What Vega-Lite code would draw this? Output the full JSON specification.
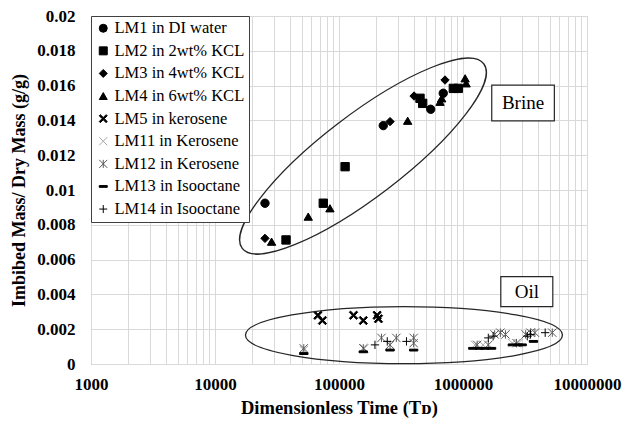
{
  "$schema": "https://vega.github.io/schema/vega-lite/v6.json",
  "width": 496,
  "height": 348,
  "autosize": {"type": "none"},
  "padding": {"left": 91, "top": 16, "right": 36, "bottom": 60},
  "background": "white",
  "config": {
    "view": {"stroke": "#bfbfbf", "strokeWidth": 1},
    "font": "Liberation Serif"
  },
  "datasets": {
    "points": [
      {"series": "LM1 in DI water", "td": 25300, "mass": 0.00924},
      {"series": "LM1 in DI water", "td": 227500, "mass": 0.0137},
      {"series": "LM1 in DI water", "td": 549000, "mass": 0.01464},
      {"series": "LM1 in DI water", "td": 693000, "mass": 0.01556},
      {"series": "LM2 in 2wt% KCL", "td": 37400, "mass": 0.00713},
      {"series": "LM2 in 2wt% KCL", "td": 74700, "mass": 0.00924},
      {"series": "LM2 in 2wt% KCL", "td": 112000, "mass": 0.01134},
      {"series": "LM2 in 2wt% KCL", "td": 450000, "mass": 0.01527},
      {"series": "LM2 in 2wt% KCL", "td": 473000, "mass": 0.01498},
      {"series": "LM2 in 2wt% KCL", "td": 836000, "mass": 0.01584},
      {"series": "LM2 in 2wt% KCL", "td": 916000, "mass": 0.01584},
      {"series": "LM3 in 4wt% KCL", "td": 25300, "mass": 0.00722},
      {"series": "LM3 in 4wt% KCL", "td": 258000, "mass": 0.01393},
      {"series": "LM3 in 4wt% KCL", "td": 403000, "mass": 0.0154},
      {"series": "LM3 in 4wt% KCL", "td": 716000, "mass": 0.01632},
      {"series": "LM4 in 6wt% KCL", "td": 28600, "mass": 0.00703},
      {"series": "LM4 in 6wt% KCL", "td": 56500, "mass": 0.00847},
      {"series": "LM4 in 6wt% KCL", "td": 84500, "mass": 0.00895},
      {"series": "LM4 in 6wt% KCL", "td": 358000, "mass": 0.01398},
      {"series": "LM4 in 6wt% KCL", "td": 653000, "mass": 0.01507},
      {"series": "LM4 in 6wt% KCL", "td": 673000, "mass": 0.01527},
      {"series": "LM4 in 6wt% KCL", "td": 1040000, "mass": 0.01642},
      {"series": "LM4 in 6wt% KCL", "td": 1060000, "mass": 0.01613},
      {"series": "LM5 in kerosene", "td": 67600, "mass": 0.0028},
      {"series": "LM5 in kerosene", "td": 73500, "mass": 0.0025},
      {"series": "LM5 in kerosene", "td": 131000, "mass": 0.0028},
      {"series": "LM5 in kerosene", "td": 157000, "mass": 0.0025},
      {"series": "LM5 in kerosene", "td": 203000, "mass": 0.0028},
      {"series": "LM5 in kerosene", "td": 208000, "mass": 0.0026},
      {"series": "LM11 in Kerosene", "td": 52000, "mass": 0.0008},
      {"series": "LM11 in Kerosene", "td": 160000, "mass": 0.0009},
      {"series": "LM11 in Kerosene", "td": 1250000, "mass": 0.0011},
      {"series": "LM11 in Kerosene", "td": 1450000, "mass": 0.0011},
      {"series": "LM11 in Kerosene", "td": 2500000, "mass": 0.0012},
      {"series": "LM11 in Kerosene", "td": 2800000, "mass": 0.0012},
      {"series": "LM12 in Kerosene", "td": 52000, "mass": 0.0009},
      {"series": "LM12 in Kerosene", "td": 157000, "mass": 0.0009},
      {"series": "LM12 in Kerosene", "td": 220000, "mass": 0.0015},
      {"series": "LM12 in Kerosene", "td": 258000, "mass": 0.0011},
      {"series": "LM12 in Kerosene", "td": 290000, "mass": 0.0015},
      {"series": "LM12 in Kerosene", "td": 400000, "mass": 0.0015},
      {"series": "LM12 in Kerosene", "td": 400000, "mass": 0.0012},
      {"series": "LM12 in Kerosene", "td": 1300000, "mass": 0.0011},
      {"series": "LM12 in Kerosene", "td": 1600000, "mass": 0.0011},
      {"series": "LM12 in Kerosene", "td": 1800000, "mass": 0.0017},
      {"series": "LM12 in Kerosene", "td": 2000000, "mass": 0.0018},
      {"series": "LM12 in Kerosene", "td": 2200000, "mass": 0.0017},
      {"series": "LM12 in Kerosene", "td": 2700000, "mass": 0.0012},
      {"series": "LM12 in Kerosene", "td": 3200000, "mass": 0.0017},
      {"series": "LM12 in Kerosene", "td": 3500000, "mass": 0.0018},
      {"series": "LM12 in Kerosene", "td": 3800000, "mass": 0.0018},
      {"series": "LM12 in Kerosene", "td": 5250000, "mass": 0.0018},
      {"series": "LM13 in Isooctane", "td": 52000, "mass": 0.0006},
      {"series": "LM13 in Isooctane", "td": 157000, "mass": 0.0007},
      {"series": "LM13 in Isooctane", "td": 258000, "mass": 0.0008},
      {"series": "LM13 in Isooctane", "td": 400000, "mass": 0.0008},
      {"series": "LM13 in Isooctane", "td": 1200000, "mass": 0.0009},
      {"series": "LM13 in Isooctane", "td": 1350000, "mass": 0.0009},
      {"series": "LM13 in Isooctane", "td": 1500000, "mass": 0.0009},
      {"series": "LM13 in Isooctane", "td": 1700000, "mass": 0.0009},
      {"series": "LM13 in Isooctane", "td": 2500000, "mass": 0.0011},
      {"series": "LM13 in Isooctane", "td": 2800000, "mass": 0.0011},
      {"series": "LM13 in Isooctane", "td": 3000000, "mass": 0.0011},
      {"series": "LM13 in Isooctane", "td": 3700000, "mass": 0.0013},
      {"series": "LM14 in Isooctane", "td": 195000, "mass": 0.0011},
      {"series": "LM14 in Isooctane", "td": 245000, "mass": 0.0013},
      {"series": "LM14 in Isooctane", "td": 350000, "mass": 0.0013},
      {"series": "LM14 in Isooctane", "td": 1600000, "mass": 0.0015},
      {"series": "LM14 in Isooctane", "td": 1750000, "mass": 0.0016},
      {"series": "LM14 in Isooctane", "td": 3300000, "mass": 0.0016},
      {"series": "LM14 in Isooctane", "td": 3500000, "mass": 0.0017},
      {"series": "LM14 in Isooctane", "td": 4600000, "mass": 0.0018}
    ],
    "groups": [
      {"group": "Brine", "td": 156100, "mass": 0.01195},
      {"group": "Oil", "td": 334000, "mass": 0.00166}
    ],
    "labels": [
      {"label": "Brine", "td": 3050000, "mass": 0.015},
      {"label": "Oil", "td": 3270000, "mass": 0.00416}
    ]
  },
  "encoding": {
    "x": {
      "field": "td",
      "type": "quantitative",
      "scale": {"type": "log", "domain": [1000, 10000000], "nice": false},
      "axis": {
        "title": "Dimensionless Time (Tᴅ)",
        "values": [1000, 2000, 3000, 4000, 5000, 6000, 7000, 8000, 9000, 10000, 20000, 30000, 40000, 50000, 60000, 70000, 80000, 90000, 100000, 200000, 300000, 400000, 500000, 600000, 700000, 800000, 900000, 1000000, 2000000, 3000000, 4000000, 5000000, 6000000, 7000000, 8000000, 9000000, 10000000],
        "format": "d",
        "labelExpr": "indexof(['1000','10000','100000','1000000','10000000'], datum.label) >= 0 ? datum.label : ''",
        "labelOverlap": false,
        "labelFlush": false,
        "ticks": false,
        "domain": false,
        "grid": true,
        "gridColor": "#d9d9d9",
        "gridWidth": 1,
        "labelFont": "Liberation Serif",
        "labelFontWeight": "bold",
        "labelFontSize": 17,
        "labelColor": "black",
        "labelPadding": 12,
        "titleFont": "Liberation Serif",
        "titleFontWeight": "bold",
        "titleFontSize": 18.5,
        "titleColor": "black",
        "titlePadding": 6
      }
    },
    "y": {
      "field": "mass",
      "type": "quantitative",
      "scale": {"domain": [0, 0.02], "nice": false, "zero": true},
      "axis": {
        "title": "Imbibed Mass/ Dry Mass (g/g)",
        "values": [0, 0.002, 0.004, 0.006, 0.008, 0.01, 0.012, 0.014, 0.016, 0.018, 0.02],
        "format": "~g",
        "ticks": false,
        "domain": false,
        "grid": true,
        "gridColor": "#d9d9d9",
        "gridWidth": 1,
        "labelFont": "Liberation Serif",
        "labelFontWeight": "bold",
        "labelFontSize": 17,
        "labelColor": "black",
        "labelPadding": 16,
        "titleFont": "Liberation Serif",
        "titleFontWeight": "bold",
        "titleFontSize": 18,
        "titleColor": "black",
        "titlePadding": 8
      }
    }
  },
  "layer": [
    {
      "data": {"name": "points"},
      "mark": {"type": "point", "filled": true, "size": 70, "strokeWidth": 1, "opacity": 1},
      "encoding": {
        "shape": {
          "field": "series",
          "type": "nominal",
          "scale": {
            "domain": ["LM1 in DI water", "LM2 in 2wt% KCL", "LM3 in 4wt% KCL", "LM4 in 6wt% KCL", "LM5 in kerosene", "LM11 in Kerosene", "LM12 in Kerosene", "LM13 in Isooctane", "LM14 in Isooctane"],
            "range": ["circle", "square", "diamond", "triangle-up",
              "M -1 -0.72 L -0.72 -1 L 0 -0.28 L 0.72 -1 L 1 -0.72 L 0.28 0 L 1 0.72 L 0.72 1 L 0 0.28 L -0.72 1 L -1 0.72 L -0.28 0 Z",
              "M -1 -1 L 1 1 M 1 -1 L -1 1",
              "M -1 -1 L 1 1 M 1 -1 L -1 1 M 0 -1 L 0 1",
              "M -1 -0.22 L 1 -0.22 L 1 0.22 L -1 0.22 Z",
              "M -1 0 L 1 0 M 0 -1 L 0 1"]
          },
          "legend": {
            "title": null,
            "orient": "top-left",
            "offset": 0,
            "fillColor": "white",
            "strokeColor": "#404040",
            "padding": 4,
            "rowPadding": 5.6,
            "labelFont": "Liberation Serif",
            "labelFontSize": 16.5,
            "labelColor": "black",
            "labelOffset": 3,
            "symbolSize": 64,
            "symbolStrokeWidth": 1,
            "labelLimit": 300
          }
        },
        "color": {
          "field": "series",
          "type": "nominal",
          "scale": {
            "domain": ["LM1 in DI water", "LM2 in 2wt% KCL", "LM3 in 4wt% KCL", "LM4 in 6wt% KCL", "LM5 in kerosene", "LM11 in Kerosene", "LM12 in Kerosene", "LM13 in Isooctane", "LM14 in Isooctane"],
            "range": ["black", "black", "black", "black", "black", "#a6a6a6", "#595959", "black", "black"]
          }
        },
        "stroke": {
          "field": "series",
          "type": "nominal",
          "scale": {
            "domain": ["LM1 in DI water", "LM2 in 2wt% KCL", "LM3 in 4wt% KCL", "LM4 in 6wt% KCL", "LM5 in kerosene", "LM11 in Kerosene", "LM12 in Kerosene", "LM13 in Isooctane", "LM14 in Isooctane"],
            "range": ["black", "black", "black", "black", "black", "#a6a6a6", "#595959", "black", "black"]
          }
        }
      }
    },
    {
      "data": {"name": "groups"},
      "transform": [{"filter": "datum.group === 'Brine'"}],
      "mark": {
        "type": "point",
        "shape": "M -1 0 C -1 -0.149 -0.552 -0.27 0 -0.27 C 0.552 -0.27 1 -0.149 1 0 C 1 0.149 0.552 0.27 0 0.27 C -0.552 0.27 -1 0.149 -1 0 Z",
        "size": 92416,
        "angle": -37.4,
        "filled": false,
        "stroke": "#262626",
        "strokeWidth": 1.3,
        "opacity": 1
      }
    },
    {
      "data": {"name": "groups"},
      "transform": [{"filter": "datum.group === 'Oil'"}],
      "mark": {
        "type": "point",
        "shape": "M -1 0 C -1 -0.0994 -0.552 -0.18 0 -0.18 C 0.552 -0.18 1 -0.0994 1 0 C 1 0.0994 0.552 0.18 0 0.18 C -0.552 0.18 -1 0.0994 -1 0 Z",
        "size": 100489,
        "filled": false,
        "stroke": "#262626",
        "strokeWidth": 1.3,
        "opacity": 1
      }
    },
    {
      "data": {"name": "labels"},
      "transform": [{"filter": "datum.label === 'Brine'"}],
      "mark": {
        "type": "point",
        "shape": "M -1 -0.57 L 1 -0.57 L 1 0.57 L -1 0.57 Z",
        "size": 3919,
        "filled": true,
        "fill": "white",
        "stroke": "#262626",
        "strokeWidth": 1.2,
        "opacity": 1
      }
    },
    {
      "data": {"name": "labels"},
      "transform": [{"filter": "datum.label === 'Oil'"}],
      "mark": {
        "type": "point",
        "shape": "M -1 -0.577 L 1 -0.577 L 1 0.577 L -1 0.577 Z",
        "size": 2704,
        "filled": true,
        "fill": "white",
        "stroke": "#262626",
        "strokeWidth": 1.2,
        "opacity": 1
      }
    },
    {
      "data": {"name": "labels"},
      "mark": {"type": "text", "font": "Liberation Serif", "fontSize": 19, "color": "black", "align": "center", "baseline": "middle"},
      "encoding": {"text": {"field": "label", "type": "nominal"}}
    }
  ]
}
